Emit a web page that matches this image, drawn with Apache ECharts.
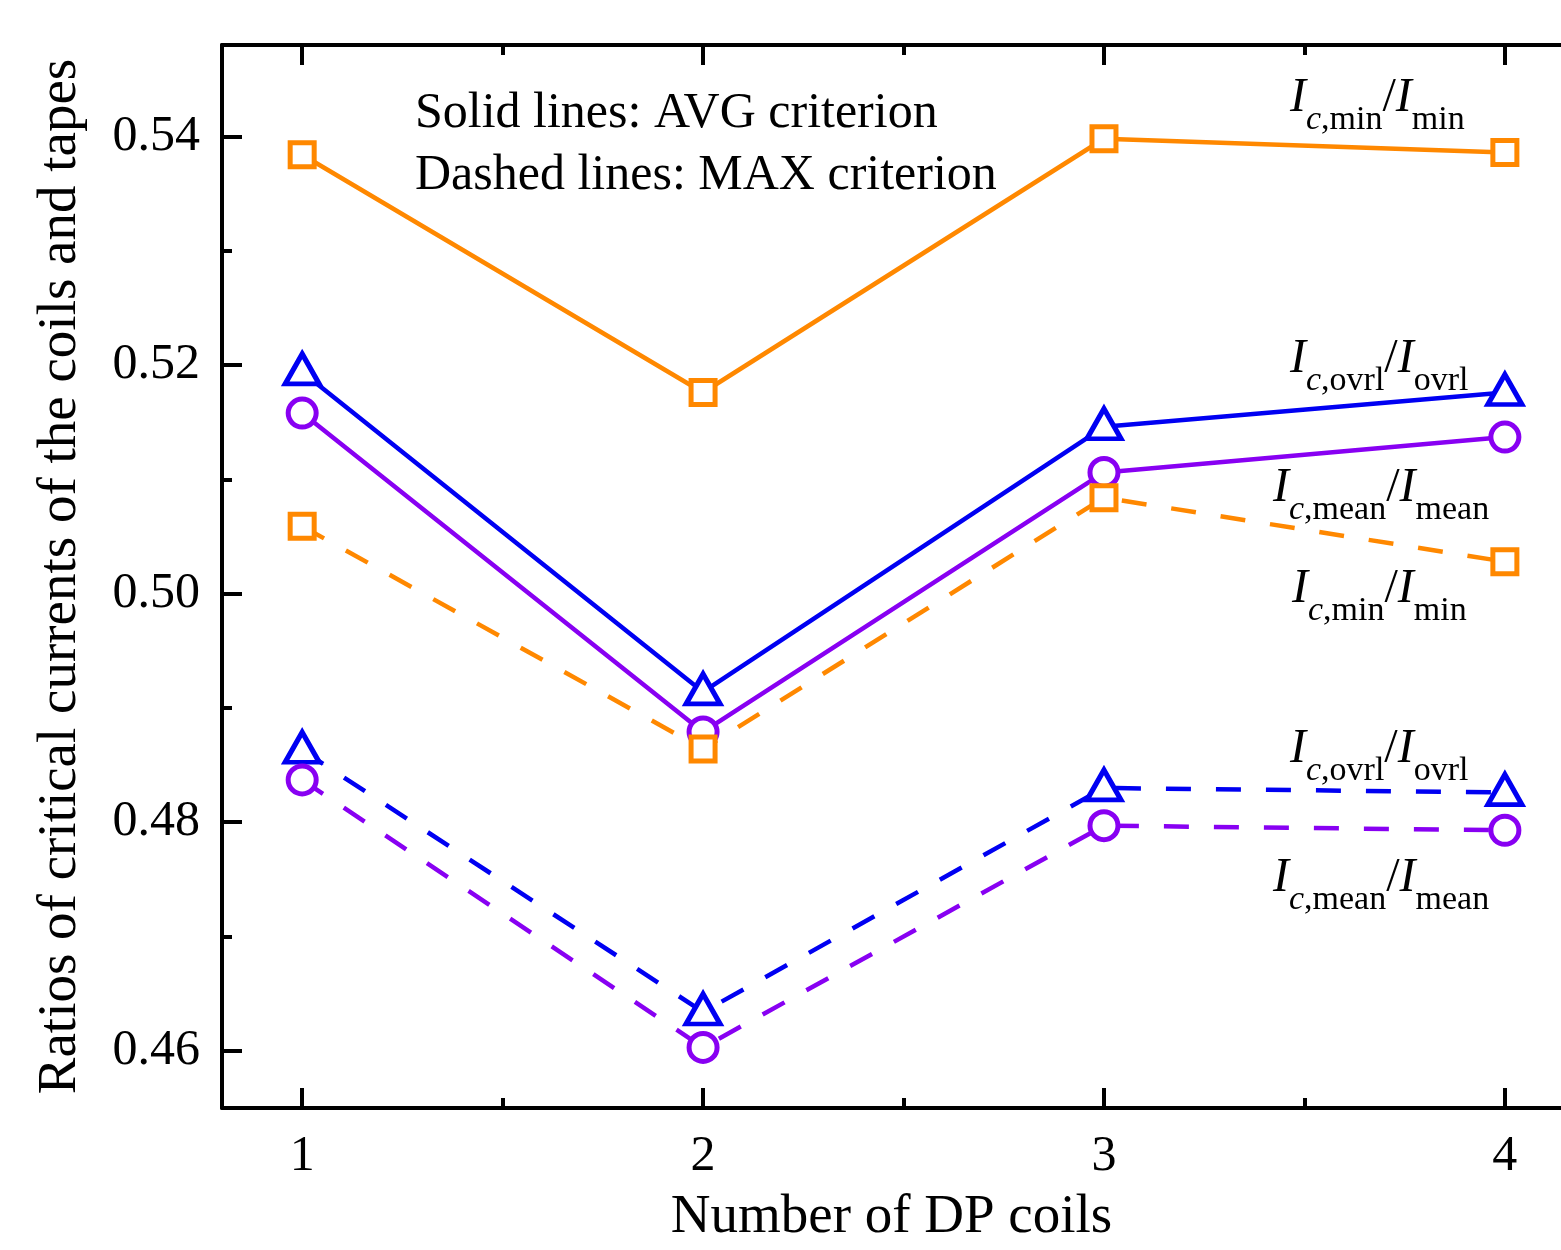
<!DOCTYPE html>
<html>
<head>
<meta charset="utf-8">
<script src="https://cdn.jsdelivr.net/npm/echarts@6/dist/echarts.min.js"></script>
<style>html,body{margin:0;padding:0;background:#fff;}#c{width:1561px;height:1250px;}</style>
</head>
<body>
<div id="c"></div>
<script>
const coils = [1, 2, 3, 4];
const minAvg  = [0.5384, 0.5176, 0.5398, 0.5386];
const ovrlAvg = [0.5194, 0.4914, 0.5146, 0.5176];
const meanAvg = [0.5158, 0.4879, 0.5106, 0.5137];
const minMax  = [0.5059, 0.4864, 0.5084, 0.5028];
const ovrlMax = [0.4863, 0.4634, 0.4830, 0.4826];
const meanMax = [0.4837, 0.4603, 0.4797, 0.4793];
const xMajorTicks = [1, 2, 3, 4];
const xMinorTicks = [1.5, 2.5, 3.5];
const yMajorTicks = [0.46, 0.48, 0.50, 0.52, 0.54];
const yMinorTicks = [0.47, 0.49, 0.51, 0.53];

const FONT = "'Liberation Serif', 'Times New Roman', serif";
const ORANGE = '#FF8800', BLUE = '#0000F2', PURPLE = '#8800F2';

function pairs(vals) { return coils.map((c, i) => [c, vals[i]]); }

function mkSeries(vals, color, symbol, size, dashed, offset) {
  return {
    type: 'line', data: pairs(vals), xAxisIndex: 0, yAxisIndex: 0,
    symbol: symbol, symbolSize: size, symbolOffset: offset || [0, 0],
    showAllSymbol: true,
    lineStyle: { color: color, width: 4.5, type: dashed ? [25, 25] : 'solid' },
    itemStyle: { color: '#fff', borderColor: color, borderWidth: 5 },
    emphasis: { disabled: true }, animation: false, z: 3
  };
}

const axisLineStyle = { show: true, lineStyle: { color: '#000', width: 4 } };
function xAx(pos, ticks, len, showLine, showLabel) {
  return {
    type: 'value', position: pos, min: 0.8, max: 4.14,
    axisLine: showLine ? axisLineStyle : { show: false },
    axisTick: { show: true, inside: true, length: len, lineStyle: { color: '#000', width: 4 }, customValues: ticks },
    axisLabel: showLabel ? { show: true, customValues: ticks, fontSize: 50, fontFamily: FONT, color: '#000', margin: 24 } : { show: false },
    splitLine: { show: false }
  };
}
function yAx(ticks, len, showLine, showLabel) {
  return {
    type: 'value', position: 'left', min: 0.455, max: 0.548,
    axisLine: showLine ? axisLineStyle : { show: false },
    axisTick: { show: true, inside: true, length: len, lineStyle: { color: '#000', width: 4 }, customValues: ticks },
    axisLabel: showLabel ? { show: true, customValues: ticks, fontSize: 50, fontFamily: FONT, color: '#000', margin: 22,
      formatter: v => v.toFixed(2) } : { show: false },
    splitLine: { show: false }
  };
}

const xAxes = [xAx('bottom', xMajorTicks, 20, true, true), xAx('bottom', xMinorTicks, 10, false, false),
               xAx('top', xMajorTicks, 20, true, false), xAx('top', xMinorTicks, 10, false, false)];
xAxes[0].name = 'Number of DP coils';
xAxes[0].nameLocation = 'middle';
xAxes[0].nameGap = 82;
xAxes[0].nameTextStyle = { fontSize: 55, fontFamily: FONT, color: '#000' };

const yAxes = [yAx(yMajorTicks, 20, true, true), yAx(yMinorTicks, 10, false, false)];
yAxes[0].name = 'Ratios of critical currents of the coils and tapes';
yAxes[0].nameLocation = 'middle';
yAxes[0].nameGap = 134;
yAxes[0].nameTextStyle = { fontSize: 55, fontFamily: FONT, color: '#000' };

const rich = {
  I: { fontSize: 48, fontStyle: 'italic', fontFamily: FONT, color: '#000', lineHeight: 48, verticalAlign: 'top' },
  c: { fontSize: 34, fontStyle: 'italic', fontFamily: FONT, color: '#000', lineHeight: 34, verticalAlign: 'top', padding: [29, 0, 0, 0] },
  s: { fontSize: 34, fontFamily: FONT, color: '#000', lineHeight: 34, verticalAlign: 'top', padding: [29, 0, 0, 0] },
  n: { fontSize: 48, fontFamily: FONT, color: '#000', lineHeight: 48, verticalAlign: 'top' }
};
function ratioLabel(sub, x, y) {
  return {
    type: 'text', x: x, y: y, z: 10,
    style: { text: '{I|I}{c|c}{s|,' + sub + '}{n|/}{I|I}{s|' + sub + '}', rich: rich, align: 'left', verticalAlign: 'top' }
  };
}
function plainText(t, x, y) {
  return { type: 'text', x: x, y: y, z: 10,
    style: { text: t, fontSize: 50, fontFamily: FONT, fill: '#000', align: 'left', verticalAlign: 'middle' } };
}

const chart = echarts.init(document.getElementById('c'), null, { renderer: 'canvas' });
chart.setOption({
  backgroundColor: '#fff',
  animation: false,
  grid: { left: 222, right: 0, top: 45, bottom: 140, containLabel: false },
  xAxis: xAxes,
  yAxis: yAxes,
  series: [
    mkSeries(minAvg, ORANGE, 'rect', 24, false),
    mkSeries(ovrlAvg, BLUE, 'triangle', [34, 30], false, [0, -3]),
    mkSeries(meanAvg, PURPLE, 'circle', 28, false),
    mkSeries(minMax, ORANGE, 'rect', 24, true),
    mkSeries(ovrlMax, BLUE, 'triangle', [34, 30], true, [0, -3]),
    mkSeries(meanMax, PURPLE, 'circle', 28, true)
  ],
  graphic: [
    plainText('Solid lines: AVG criterion', 415, 114),
    plainText('Dashed lines: MAX criterion', 415, 176),
    ratioLabel('min', 1290, 74),
    ratioLabel('ovrl', 1290, 335),
    ratioLabel('mean', 1273, 464),
    ratioLabel('min', 1292, 565),
    ratioLabel('ovrl', 1290, 725),
    ratioLabel('mean', 1273, 854)
  ]
});
</script>
</body>
</html>
